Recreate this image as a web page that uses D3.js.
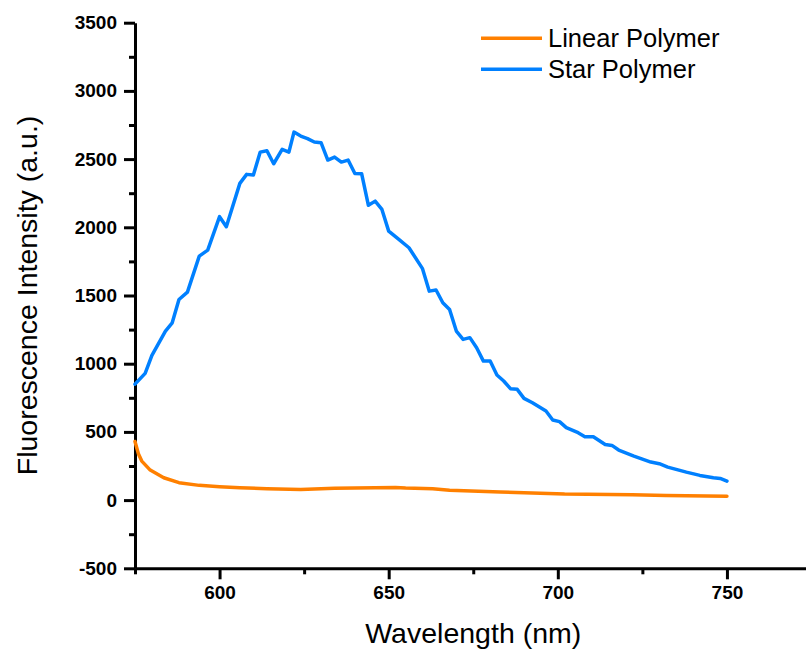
<!DOCTYPE html>
<html>
<head>
<meta charset="utf-8">
<script src="https://cdn.jsdelivr.net/npm/d3@7"></script>
<style>
  body { margin: 0; background: #fff; }
  svg { display: block; font-family: "Liberation Sans", Arial, sans-serif; }
</style>
</head>
<body>
<script>
// Star polymer emission (blue)
const starWavelength = [575, 578, 580, 584, 586, 588, 590.5, 594, 596.5, 600, 602, 606, 608, 610,
  612, 614, 616, 618.5, 620.5, 622, 624, 626, 628, 630, 632, 634, 636, 638, 640, 642, 644, 646,
  648, 650, 653, 656, 660, 662, 664, 666, 668, 670, 672, 674, 676, 678, 680, 682, 684, 686, 688,
  690, 692.5, 696.5, 698.5, 700.5, 702.5, 706, 708, 710.5, 714, 716, 718, 722.5, 727.5, 730,
  732.5, 738, 742, 746, 748, 750];
const starIntensity = [850, 929, 1061, 1239, 1300, 1471, 1525, 1789, 1833, 2078, 2004, 2322, 2388, 2383,
  2551, 2561, 2466, 2571, 2551, 2698, 2669, 2650, 2625, 2620, 2493, 2515, 2478, 2493, 2395, 2393, 2161, 2192,
  2131, 1972, 1911, 1850, 1697, 1532, 1540, 1447, 1398, 1239, 1178, 1191, 1117, 1019, 1019, 917, 873, 817, 812,
  746, 714, 653, 587, 575, 531, 494, 465, 465, 408, 401, 367, 323, 279, 267,
  242, 205, 181, 164, 159, 139];

// Linear polymer emission (orange)
const linearWavelength = [575, 576, 577, 579.5, 583.5, 588, 594, 600, 606, 614, 624, 634, 646, 652, 655,
  663, 668, 683, 702, 722, 732, 750];
const linearIntensity = [430, 340, 286, 220, 164, 128, 108, 98, 91, 84, 78, 87, 91, 93, 88,
  84, 73, 59, 44, 40, 34, 29];

const seriesNames = ['Linear Polymer', 'Star Polymer'];
const seriesColors = ['#ff8000', '#0080ff'];

const xMajorTicks = [600, 650, 700, 750];
const xMinorTicks = [575, 625, 675, 725, 775];
const yMajorTicks = [-500, 0, 500, 1000, 1500, 2000, 2500, 3000, 3500];
const yMinorTicks = [-250, 250, 750, 1250, 1750, 2250, 2750, 3250];

const width = 806, height = 655;
const margin = { left: 135, top: 22.7, right: -5.5, bottom: 86.7 };

const svg = d3.select('body').append('svg')
  .attr('width', width)
  .attr('height', height);

// Set the ranges
const x = d3.scaleLinear().domain([575, 775]).range([margin.left, width - margin.right]);
const y = d3.scaleLinear().domain([-500, 3500]).range([height - margin.bottom, margin.top]);

const line = d3.line()
  .x(d => x(d[0]))
  .y(d => y(d[1]));

const series = [
  d3.zip(linearWavelength, linearIntensity),
  d3.zip(starWavelength, starIntensity)
];

// plain integers, ascii minus
const plain = d => String(d);

// Axes: major ticks with labels, minor ticks without
const styleAxis = g => {
  g.attr('font-family', '"Liberation Sans", Arial, sans-serif')
    .attr('font-size', 19)
    .attr('font-weight', 'bold');
  g.select('.domain').attr('stroke-width', 3);
  g.selectAll('.tick line').attr('stroke-width', 3);
  g.selectAll('.tick text').attr('fill', '#000');
};

svg.append('g')
  .attr('transform', `translate(0,${y(-500)})`)
  .call(d3.axisBottom(x).tickValues(xMinorTicks).tickSize(6).tickFormat(''))
  .call(g => g.select('.domain').remove())
  .call(styleAxis);

svg.append('g')
  .attr('transform', `translate(${x(575)},0)`)
  .call(d3.axisLeft(y).tickValues(yMinorTicks).tickSize(6).tickFormat(''))
  .call(g => g.select('.domain').remove())
  .call(styleAxis);

svg.append('g')
  .attr('transform', `translate(0,${y(-500)})`)
  .call(d3.axisBottom(x).tickValues(xMajorTicks).tickFormat(plain)
    .tickSize(11).tickPadding(6).tickSizeOuter(0))
  .call(styleAxis);

svg.append('g')
  .attr('transform', `translate(${x(575)},0)`)
  .call(d3.axisLeft(y).tickValues(yMajorTicks).tickFormat(plain)
    .tickSize(11).tickPadding(7).tickSizeOuter(0))
  .call(styleAxis);

// Curves
svg.append('g')
  .selectAll('path')
  .data(series)
  .join('path')
  .attr('fill', 'none')
  .attr('stroke', (d, i) => seriesColors[i])
  .attr('stroke-width', 3.5)
  .attr('stroke-linejoin', 'round')
  .attr('stroke-linecap', 'round')
  .attr('d', line);

// Axis titles
svg.append('text')
  .attr('x', (x(575) + x(775)) / 2)
  .attr('y', 643)
  .attr('text-anchor', 'middle')
  .attr('font-size', 28.5)
  .text('Wavelength (nm)');

svg.append('text')
  .attr('transform', `translate(37,${(y(-500) + y(3500)) / 2}) rotate(-90)`)
  .attr('text-anchor', 'middle')
  .attr('font-size', 28.5)
  .text('Fluorescence Intensity (a.u.)');

// Legend
const legend = svg.append('g')
  .selectAll('g')
  .data(seriesNames)
  .join('g')
  .attr('transform', (d, i) => `translate(481,${38.3 + i * 31})`);

legend.append('line')
  .attr('x1', 0)
  .attr('x2', 61)
  .attr('stroke', (d, i) => seriesColors[i])
  .attr('stroke-width', 3.5);

legend.append('text')
  .attr('x', 67)
  .attr('y', 9)
  .attr('font-size', 25.5)
  .text(d => d);
</script>
</body>
</html>
